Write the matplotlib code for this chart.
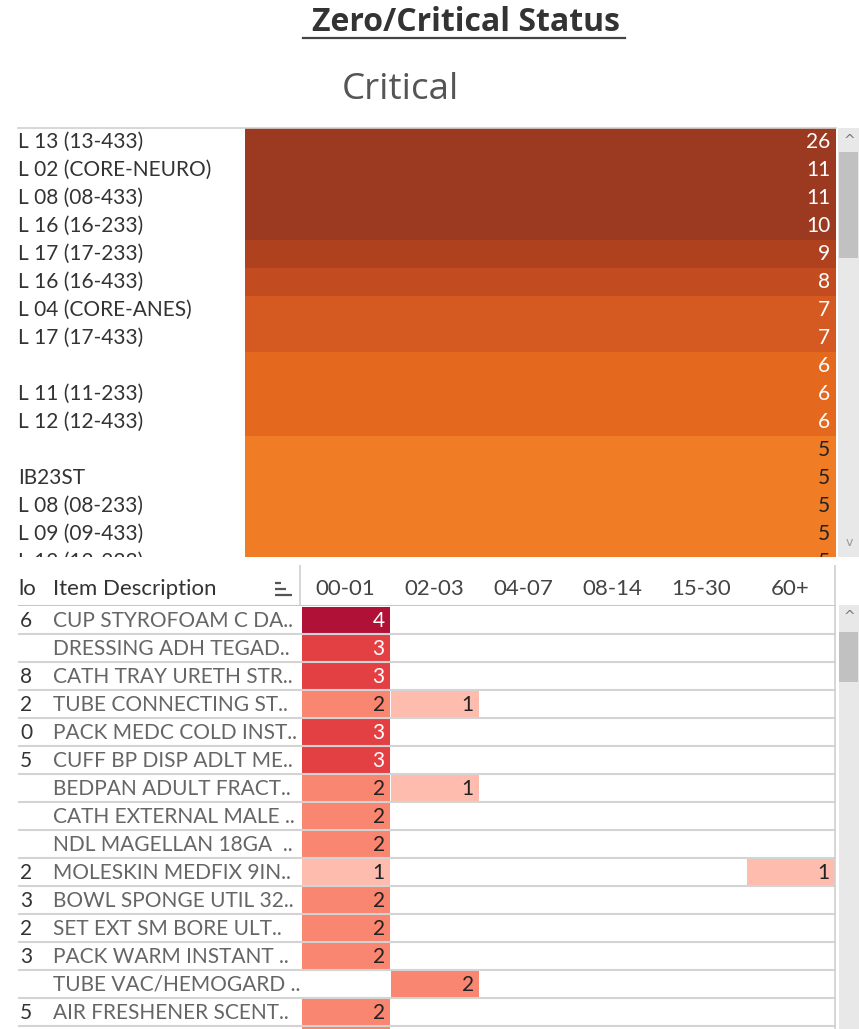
# coding=utf-8
import numpy as np
import matplotlib.pyplot as plt
from matplotlib.colors import ListedColormap, BoundaryNorm
from matplotlib.lines import Line2D
from matplotlib.patches import Rectangle

# ---- data: critical counts per location ----
locations = ['L 13 (13-433)', 'L 02 (CORE-NEURO)', 'L 08 (08-433)', 'L 16 (16-233)',
             'L 17 (17-233)', 'L 16 (16-433)', 'L 04 (CORE-ANES)', 'L 17 (17-433)',
             '', 'L 11 (11-233)', 'L 12 (12-433)', '', 'IB23ST',
             'L 08 (08-233)', 'L 09 (09-433)', 'L 12 (12-233)']
critical = [26, 11, 11, 10, 9, 8, 7, 7, 6, 6, 6, 5, 5, 5, 5, 5]

# ---- data: items by days-on-hand bucket ----
buckets = ['00-01', '02-03', '04-07', '08-14', '15-30', '60+']
item_no = ['6', '', '8', '2', '0', '5', '', '', '', '2', '3', '2', '3', '', '5', '']
items = ['CUP STYROFOAM C DA..', 'DRESSING ADH TEGAD..', 'CATH TRAY URETH STR..',
         'TUBE CONNECTING ST..', 'PACK MEDC COLD INST..', 'CUFF BP DISP ADLT ME..',
         'BEDPAN ADULT FRACT..', 'CATH EXTERNAL MALE ..', 'NDL MAGELLAN 18GA  ..',
         'MOLESKIN MEDFIX 9IN..', 'BOWL SPONGE UTIL 32..', 'SET EXT SM BORE ULT..',
         'PACK WARM INSTANT ..', 'TUBE VAC/HEMOGARD ..', 'AIR FRESHENER SCENT..', '']
b_00_01 = [4, 3, 3, 2, 3, 3, 2, 2, 2, 1, 2, 2, 2, 0, 2, 2]
b_02_03 = [0, 0, 0, 1, 0, 0, 1, 0, 0, 0, 0, 0, 0, 2, 0, 0]
b_04_07 = [0] * 16
b_08_14 = [0] * 16
b_15_30 = [0] * 16
b_60_up = [0, 0, 0, 0, 0, 0, 0, 0, 0, 1, 0, 0, 0, 0, 0, 0]

W, H = 859, 1029
FONT = 'Lato'
fig = plt.figure(figsize=(W / 100, H / 100), dpi=100)
fig.patch.set_facecolor('white')


def px_axes(x0, y0, x1, y1):
    """axes placed by pixel box (top-left origin)"""
    a = fig.add_axes([x0 / W, 1 - y1 / H, (x1 - x0) / W, (y1 - y0) / H])
    a.set_axis_off()
    return a


def fx(x):
    return x / W


def fy(y):
    return 1 - y / H


# titles
fig.text(fx(312), fy(22), 'Zero/Critical Status', fontsize=23, family='Open Sans',
         weight='bold', color='#333333', ha='left', va='center')
fig.add_artist(Line2D([fx(303), fx(625)], [fy(38), fy(38)], color='#444444', lw=1.6))
fig.text(fx(400), fy(90), 'Critical', fontsize=26.5, family='Open Sans',
         color='#555555', ha='center', va='center')

# ---- top panel ----
ROW = 28.0
top_y0, top_y1 = 128, 557
nvis = (top_y1 - top_y0) / ROW


def crit_color(v):
    if v >= 10:
        return '#9c3a21'
    return {9: '#b0411f', 8: '#c24b20', 7: '#d45a22', 6: '#e4691f'}.get(v, '#f07c25')


ax_lab = px_axes(18, top_y0, 245, top_y1)
ax_bar = px_axes(245, top_y0, 836, top_y1)
for a in (ax_lab, ax_bar):
    a.set_xlim(0, 1)
    a.set_ylim(nvis, 0)

rows = np.arange(len(critical)) + 0.5
ax_bar.barh(rows, [1] * len(critical), height=1.0, left=0,
            color=[crit_color(v) for v in critical], linewidth=0)
for r, v, lab in zip(rows, critical, locations):
    ax_bar.text(0.99, r, str(v), ha='right', va='center', fontsize=15, family=FONT,
                color='white' if v > 5 else '#222222', clip_on=True)
    ax_lab.text(0.0, r, lab, ha='left', va='center', fontsize=15, family=FONT,
                color='#333333', clip_on=True)

fig.add_artist(Line2D([fx(18), fx(836)], [fy(127.5), fy(127.5)], color='#d0d0d0', lw=1.2))

# scrollbar chrome
fig.add_artist(Rectangle((fx(838), fy(557)), fx(21), fy(128) - fy(557),
                         facecolor='#e8e8e8', edgecolor='none'))
fig.add_artist(Rectangle((fx(839), fy(258)), fx(19), fy(152) - fy(258),
                         facecolor='#c1c1c1', edgecolor='none'))
fig.text(fx(849), fy(141), '^', fontsize=10, color='#777777', ha='center', va='center')
fig.text(fx(849), fy(543), 'v', fontsize=9, color='#999999', ha='center', va='center')

# ---- bottom table ----
vals = np.array([b_00_01, b_02_03, b_04_07, b_08_14, b_15_30, b_60_up]).T
tab_x0, tab_x1 = 18, 835
col_x0 = 301
colw = (tab_x1 - col_x0) / len(buckets)
xmin = -(col_x0 - tab_x0) / colw

hdr_y0, hdr_y1 = 565, 606
tab_y1 = H
ax_hdr = px_axes(tab_x0, hdr_y0, tab_x1 + 1, hdr_y1)
ax_hdr.set_xlim(xmin, len(buckets) + 1 / colw)
ax_hdr.set_ylim(1, 0)
for j, b in enumerate(buckets):
    ax_hdr.text(j + 0.5, 0.58, b, ha='center', va='center', fontsize=16, family=FONT,
                color='#444444')
ax_hdr.text(xmin, 0.58, 'lo', ha='left', va='center', fontsize=16, family=FONT,
            color='#333333')
ax_hdr.text(xmin + (53 - tab_x0) / colw, 0.58, 'Item Description', ha='left', va='center',
            fontsize=16, family=FONT, color='#333333')
# sort icon
sx = xmin + (275 - tab_x0) / colw
for yy, ln in ((0.44, 6), (0.58, 11), (0.72, 17)):
    ax_hdr.plot([sx, sx + ln / colw], [yy, yy], color='#555555', lw=1.6,
                solid_capstyle='butt')
ax_hdr.axvline(-1 / colw, color='#d0d0d0', lw=1.2)
ax_hdr.axvline(len(buckets), color='#d0d0d0', lw=1.2)
ax_hdr.axhline(1, color='#c8c8c8', lw=1.5)

ax_tab = px_axes(tab_x0, hdr_y1, tab_x1 + 1, tab_y1)
nrow_vis = (tab_y1 - hdr_y1) / ROW
ax_tab.set_xlim(xmin, len(buckets) + 1 / colw)
ax_tab.set_ylim(nrow_vis, 0)

cmap = ListedColormap(['#fdbcad', '#f98670', '#e34044', '#b01237'])
norm = BoundaryNorm([0.5, 1.5, 2.5, 3.5, 4.5], cmap.N)
masked = np.ma.masked_equal(vals, 0)
ax_tab.pcolormesh(np.arange(len(buckets) + 1), np.arange(len(items) + 1), masked,
                  cmap=cmap, norm=norm, edgecolors='white', linewidth=0.6)
for i in range(len(items)):
    if i + 0.5 > nrow_vis:
        continue  # row scrolled out of view
    for j in range(len(buckets)):
        v = vals[i, j]
        if v:
            ax_tab.text(j + 0.94, i + 0.52, str(v), ha='right', va='center', fontsize=15,
                        family=FONT, color='white' if v >= 3 else '#222222', clip_on=True)
    ax_tab.text(xmin + (20 - tab_x0) / colw, i + 0.52, item_no[i], ha='left', va='center',
                fontsize=15, family=FONT, color='#333333', clip_on=True)
    ax_tab.text(xmin + (53 - tab_x0) / colw, i + 0.52, items[i], ha='left', va='center',
                fontsize=15, family=FONT, color='#666666', clip_on=True)
for i in range(1, len(items) + 1):
    ax_tab.axhline(i, color='#d4d4d4', lw=1.5)
ax_tab.axvline(len(buckets), color='#d0d0d0', lw=1.2)

fig.add_artist(Rectangle((fx(839), fy(H)), fx(20), fy(605) - fy(H),
                         facecolor='#e8e8e8', edgecolor='none'))
fig.add_artist(Rectangle((fx(839), fy(682)), fx(19), fy(632) - fy(682),
                         facecolor='#c1c1c1', edgecolor='none'))
fig.text(fx(849), fy(617), '^', fontsize=10, color='#777777', ha='center', va='center')

fig.savefig('out.png', dpi=100, facecolor='white')
